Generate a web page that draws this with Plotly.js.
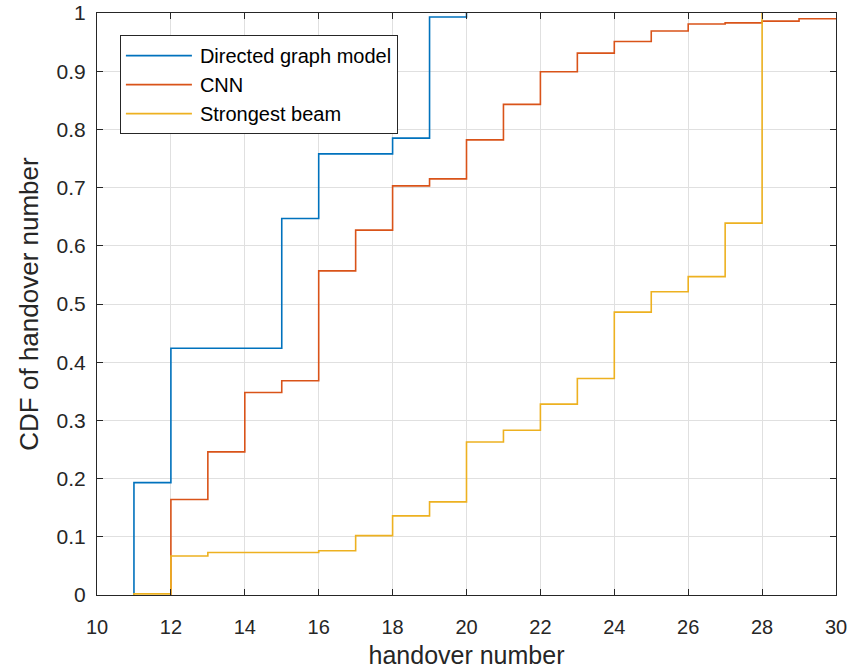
<!DOCTYPE html>
<html>
<head>
<meta charset="utf-8">
<script src="https://cdn.plot.ly/plotly-3.0.1.min.js"></script>
<style>html,body{margin:0;padding:0;background:#fff;}#chart{width:853px;height:669px;}</style>
</head>
<body>
<div id="chart"></div>
<script>
// Directed graph model
const dgX = [11, 11, 12, 15, 16, 18, 19, 20];
const dgY = [0, 0.193, 0.424, 0.647, 0.758, 0.785, 0.993, 1];
// CNN
const cnnX = [12, 12, 13, 14, 15, 16, 17, 18, 19, 20, 21, 22, 23, 24, 25, 26, 27, 28, 29, 30];
const cnnY = [0, 0.164, 0.246, 0.348, 0.368, 0.557, 0.627, 0.703, 0.715, 0.782, 0.843, 0.899, 0.931, 0.951, 0.969, 0.981, 0.983, 0.986, 0.990, 0.990];
// Strongest beam
const sbX = [11, 11, 12, 13, 16, 17, 18, 19, 20, 21, 22, 23, 24, 25, 26, 27, 28];
const sbY = [0, 0.002, 0.067, 0.073, 0.076, 0.102, 0.136, 0.160, 0.263, 0.283, 0.328, 0.372, 0.486, 0.521, 0.547, 0.639, 1];

const xTicks = [10, 12, 14, 16, 18, 20, 22, 24, 26, 28, 30];
const yTicks = [0, 0.1, 0.2, 0.3, 0.4, 0.5, 0.6, 0.7, 0.8, 0.9, 1];
const yTickText = ['0', '0.1', '0.2', '0.3', '0.4', '0.5', '0.6', '0.7', '0.8', '0.9', '1'];

const names = ['Directed graph model', 'CNN', 'Strongest beam'];
const colors = ['#0072BD', '#D95319', '#EDB120'];

const traces = [[dgX, dgY], [cnnX, cnnY], [sbX, sbY]].map((d, i) => ({
  x: d[0], y: d[1], type: 'scatter', mode: 'lines', name: names[i],
  line: {shape: 'hv', color: colors[i], width: 1.6}
}));

const fam = '"Liberation Sans", Arial, sans-serif';

const layout = {
  width: 853, height: 669,
  margin: {l: 97, r: 17, t: 13, b: 74},
  paper_bgcolor: '#fff', plot_bgcolor: '#fff',
  font: {family: fam, color: '#262626', size: 20},
  showlegend: true,
  legend: {
    x: 0.031, y: 0.962, xanchor: 'left', yanchor: 'top',
    bgcolor: '#fff', bordercolor: '#262626', borderwidth: 1,
    font: {family: fam, size: 20, color: '#000'},
    itemwidth: 69
  },
  xaxis: {
    range: [10, 30], tickvals: xTicks, ticktext: xTicks.map(String),
    showgrid: true, gridcolor: '#e0e0e0', zeroline: false,
    showline: true, linecolor: '#262626', linewidth: 1, mirror: 'ticks',
    ticks: 'inside', ticklen: 6, tickcolor: '#262626',
    tickfont: {size: 20}, ticklabelstandoff: 14,
    automargin: false,
    title: {text: 'handover number', font: {size: 25}, standoff: 10}
  },
  yaxis: {
    range: [0, 1], tickvals: yTicks, ticktext: yTickText,
    showgrid: true, gridcolor: '#e0e0e0', zeroline: false,
    showline: true, linecolor: '#262626', linewidth: 1, mirror: 'ticks',
    ticks: 'inside', ticklen: 6, tickcolor: '#262626',
    tickfont: {size: 21}, ticklabelstandoff: 6,
    automargin: false,
    title: {text: 'CDF of handover number', font: {size: 26}, standoff: 10}
  }
};

Plotly.newPlot('chart', traces, layout, {displayModeBar: false, staticPlot: true}).then(function (gd) {
  // lengthen the legend sample lines like the reference
  gd.querySelectorAll('.legend .legendlines path').forEach(function (p) {
    p.setAttribute('d', 'M5,0h66');
  });
});
</script>
</body>
</html>
